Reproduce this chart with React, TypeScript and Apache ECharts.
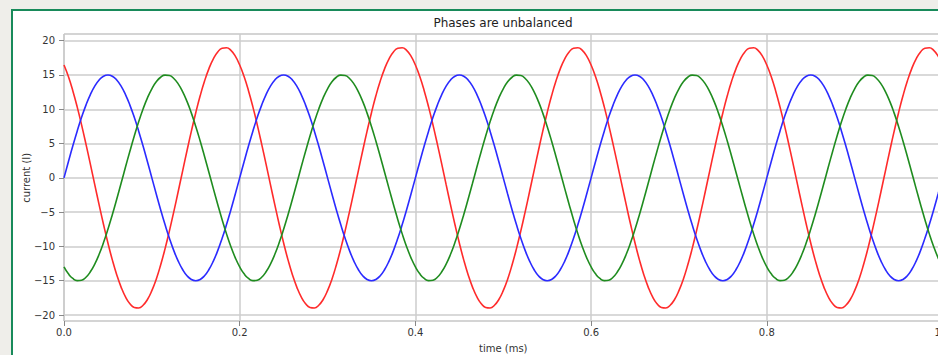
import React, { useEffect, useRef } from "react";
import * as echarts from "echarts";

const TITLE = "Phases are unbalanced";
const X_NAME = "time (ms)";
const Y_NAME = "current (I)";

const TIME = [
  0, 0.005, 0.01, 0.015, 0.02, 0.025, 0.03, 0.035, 0.04, 0.045, 0.05, 0.055, 0.06, 0.065, 0.07, 0.075, 0.08, 0.085, 0.09, 0.095,
  0.1, 0.105, 0.11, 0.115, 0.12, 0.125, 0.13, 0.135, 0.14, 0.145, 0.15, 0.155, 0.16, 0.165, 0.17, 0.175, 0.18, 0.185, 0.19, 0.195,
  0.2, 0.205, 0.21, 0.215, 0.22, 0.225, 0.23, 0.235, 0.24, 0.245, 0.25, 0.255, 0.26, 0.265, 0.27, 0.275, 0.28, 0.285, 0.29, 0.295,
  0.3, 0.305, 0.31, 0.315, 0.32, 0.325, 0.33, 0.335, 0.34, 0.345, 0.35, 0.355, 0.36, 0.365, 0.37, 0.375, 0.38, 0.385, 0.39, 0.395,
  0.4, 0.405, 0.41, 0.415, 0.42, 0.425, 0.43, 0.435, 0.44, 0.445, 0.45, 0.455, 0.46, 0.465, 0.47, 0.475, 0.48, 0.485, 0.49, 0.495,
  0.5, 0.505, 0.51, 0.515, 0.52, 0.525, 0.53, 0.535, 0.54, 0.545, 0.55, 0.555, 0.56, 0.565, 0.57, 0.575, 0.58, 0.585, 0.59, 0.595,
  0.6, 0.605, 0.61, 0.615, 0.62, 0.625, 0.63, 0.635, 0.64, 0.645, 0.65, 0.655, 0.66, 0.665, 0.67, 0.675, 0.68, 0.685, 0.69, 0.695,
  0.7, 0.705, 0.71, 0.715, 0.72, 0.725, 0.73, 0.735, 0.74, 0.745, 0.75, 0.755, 0.76, 0.765, 0.77, 0.775, 0.78, 0.785, 0.79, 0.795,
  0.8, 0.805, 0.81, 0.815, 0.82, 0.825, 0.83, 0.835, 0.84, 0.845, 0.85, 0.855, 0.86, 0.865, 0.87, 0.875, 0.88, 0.885, 0.89, 0.895,
  0.9, 0.905, 0.91, 0.915, 0.92, 0.925, 0.93, 0.935, 0.94, 0.945, 0.95, 0.955, 0.96, 0.965, 0.97, 0.975, 0.98, 0.985, 0.99, 0.995,
  1.0,
];

const PHASE_RED = [
  16.45, 14.77, 12.71, 10.35, 7.73, 4.92, 1.99, -0.99, -3.95, -6.81, -9.5, -11.96, -14.12, -15.93, -17.36, -18.35, -18.9, -18.97, -18.58, -17.74,
  -16.45, -14.77, -12.71, -10.35, -7.73, -4.92, -1.99, 0.99, 3.95, 6.81, 9.5, 11.96, 14.12, 15.93, 17.36, 18.35, 18.9, 18.97, 18.58, 17.74,
  16.45, 14.77, 12.71, 10.35, 7.73, 4.92, 1.99, -0.99, -3.95, -6.81, -9.5, -11.96, -14.12, -15.93, -17.36, -18.35, -18.9, -18.97, -18.58, -17.74,
  -16.45, -14.77, -12.71, -10.35, -7.73, -4.92, -1.99, 0.99, 3.95, 6.81, 9.5, 11.96, 14.12, 15.93, 17.36, 18.35, 18.9, 18.97, 18.58, 17.74,
  16.45, 14.77, 12.71, 10.35, 7.73, 4.92, 1.99, -0.99, -3.95, -6.81, -9.5, -11.96, -14.12, -15.93, -17.36, -18.35, -18.9, -18.97, -18.58, -17.74,
  -16.45, -14.77, -12.71, -10.35, -7.73, -4.92, -1.99, 0.99, 3.95, 6.81, 9.5, 11.96, 14.12, 15.93, 17.36, 18.35, 18.9, 18.97, 18.58, 17.74,
  16.45, 14.77, 12.71, 10.35, 7.73, 4.92, 1.99, -0.99, -3.95, -6.81, -9.5, -11.96, -14.12, -15.93, -17.36, -18.35, -18.9, -18.97, -18.58, -17.74,
  -16.45, -14.77, -12.71, -10.35, -7.73, -4.92, -1.99, 0.99, 3.95, 6.81, 9.5, 11.96, 14.12, 15.93, 17.36, 18.35, 18.9, 18.97, 18.58, 17.74,
  16.45, 14.77, 12.71, 10.35, 7.73, 4.92, 1.99, -0.99, -3.95, -6.81, -9.5, -11.96, -14.12, -15.93, -17.36, -18.35, -18.9, -18.97, -18.58, -17.74,
  -16.45, -14.77, -12.71, -10.35, -7.73, -4.92, -1.99, 0.99, 3.95, 6.81, 9.5, 11.96, 14.12, 15.93, 17.36, 18.35, 18.9, 18.97, 18.58, 17.74,
  16.45,
];

const PHASE_BLUE = [
  0, 2.35, 4.64, 6.81, 8.82, 10.61, 12.14, 13.37, 14.27, 14.82, 15, 14.82, 14.27, 13.37, 12.14, 10.61, 8.82, 6.81, 4.64, 2.35,
  0, -2.35, -4.64, -6.81, -8.82, -10.61, -12.14, -13.37, -14.27, -14.82, -15, -14.82, -14.27, -13.37, -12.14, -10.61, -8.82, -6.81, -4.64, -2.35,
  0, 2.35, 4.64, 6.81, 8.82, 10.61, 12.14, 13.37, 14.27, 14.82, 15, 14.82, 14.27, 13.37, 12.14, 10.61, 8.82, 6.81, 4.64, 2.35,
  0, -2.35, -4.64, -6.81, -8.82, -10.61, -12.14, -13.37, -14.27, -14.82, -15, -14.82, -14.27, -13.37, -12.14, -10.61, -8.82, -6.81, -4.64, -2.35,
  0, 2.35, 4.64, 6.81, 8.82, 10.61, 12.14, 13.37, 14.27, 14.82, 15, 14.82, 14.27, 13.37, 12.14, 10.61, 8.82, 6.81, 4.64, 2.35,
  0, -2.35, -4.64, -6.81, -8.82, -10.61, -12.14, -13.37, -14.27, -14.82, -15, -14.82, -14.27, -13.37, -12.14, -10.61, -8.82, -6.81, -4.64, -2.35,
  0, 2.35, 4.64, 6.81, 8.82, 10.61, 12.14, 13.37, 14.27, 14.82, 15, 14.82, 14.27, 13.37, 12.14, 10.61, 8.82, 6.81, 4.64, 2.35,
  0, -2.35, -4.64, -6.81, -8.82, -10.61, -12.14, -13.37, -14.27, -14.82, -15, -14.82, -14.27, -13.37, -12.14, -10.61, -8.82, -6.81, -4.64, -2.35,
  0, 2.35, 4.64, 6.81, 8.82, 10.61, 12.14, 13.37, 14.27, 14.82, 15, 14.82, 14.27, 13.37, 12.14, 10.61, 8.82, 6.81, 4.64, 2.35,
  0, -2.35, -4.64, -6.81, -8.82, -10.61, -12.14, -13.37, -14.27, -14.82, -15, -14.82, -14.27, -13.37, -12.14, -10.61, -8.82, -6.81, -4.64, -2.35,
  0,
];

const PHASE_GREEN = [
  -12.99, -14, -14.67, -14.98, -14.92, -14.49, -13.7, -12.58, -11.15, -9.44, -7.5, -5.38, -3.12, -0.79, 1.57, 3.88, 6.1, 8.17, 10.04, 11.66,
  12.99, 14, 14.67, 14.98, 14.92, 14.49, 13.7, 12.58, 11.15, 9.44, 7.5, 5.38, 3.12, 0.79, -1.57, -3.88, -6.1, -8.17, -10.04, -11.66,
  -12.99, -14, -14.67, -14.98, -14.92, -14.49, -13.7, -12.58, -11.15, -9.44, -7.5, -5.38, -3.12, -0.79, 1.57, 3.88, 6.1, 8.17, 10.04, 11.66,
  12.99, 14, 14.67, 14.98, 14.92, 14.49, 13.7, 12.58, 11.15, 9.44, 7.5, 5.38, 3.12, 0.79, -1.57, -3.88, -6.1, -8.17, -10.04, -11.66,
  -12.99, -14, -14.67, -14.98, -14.92, -14.49, -13.7, -12.58, -11.15, -9.44, -7.5, -5.38, -3.12, -0.79, 1.57, 3.88, 6.1, 8.17, 10.04, 11.66,
  12.99, 14, 14.67, 14.98, 14.92, 14.49, 13.7, 12.58, 11.15, 9.44, 7.5, 5.38, 3.12, 0.79, -1.57, -3.88, -6.1, -8.17, -10.04, -11.66,
  -12.99, -14, -14.67, -14.98, -14.92, -14.49, -13.7, -12.58, -11.15, -9.44, -7.5, -5.38, -3.12, -0.79, 1.57, 3.88, 6.1, 8.17, 10.04, 11.66,
  12.99, 14, 14.67, 14.98, 14.92, 14.49, 13.7, 12.58, 11.15, 9.44, 7.5, 5.38, 3.12, 0.79, -1.57, -3.88, -6.1, -8.17, -10.04, -11.66,
  -12.99, -14, -14.67, -14.98, -14.92, -14.49, -13.7, -12.58, -11.15, -9.44, -7.5, -5.38, -3.12, -0.79, 1.57, 3.88, 6.1, 8.17, 10.04, 11.66,
  12.99, 14, 14.67, 14.98, 14.92, 14.49, 13.7, 12.58, 11.15, 9.44, 7.5, 5.38, 3.12, 0.79, -1.57, -3.88, -6.1, -8.17, -10.04, -11.66,
  -12.99,
];

const SERIES = [
  { name: "Phase A", values: PHASE_RED, color: "#ff2b2b" },
  { name: "Phase B", values: PHASE_BLUE, color: "#2b2bff" },
  { name: "Phase C", values: PHASE_GREEN, color: "#1f8c1f" },
];

const FONT = "DejaVu Sans";

export default function App() {
  const ref = useRef<HTMLDivElement>(null);

  useEffect(() => {
    if (!ref.current) return;
    const chart = echarts.init(ref.current, undefined, { renderer: "svg" });
    const gridLine = { show: true, lineStyle: { color: "#cdcdcd", width: 1.5 } };
    const tick = { show: true, length: 5, lineStyle: { color: "#888", width: 1 } };
    const label = { color: "#333", fontSize: 10, fontFamily: FONT };
    chart.setOption({
      animation: false,
      backgroundColor: "transparent",
      title: {
        text: TITLE,
        left: "center",
        top: 17,
        padding: 0,
        textStyle: { fontSize: 12, fontWeight: "normal", color: "#222", fontFamily: FONT },
      },
      grid: [
        { left: 64, top: 34, width: 878.5, height: 287, show: true, borderColor: "#a9a9a9", borderWidth: 1, backgroundColor: "transparent", containLabel: false, outerBoundsMode: "none" },
        { left: 64, top: 40.7, width: 878.5, height: 274.3, containLabel: false, outerBoundsMode: "none" },
      ],
      xAxis: [
        {
          type: "value",
          gridIndex: 0,
          min: 0,
          max: 1,
          interval: 0.2,
          axisLine: { show: false, onZero: false },
          axisTick: tick,
          axisLabel: { ...label, margin: 6, formatter: (v: number) => v.toFixed(1) },
          splitLine: gridLine,
          name: X_NAME,
          nameLocation: "middle",
          nameGap: 22,
          nameMoveOverlap: false,
          nameTextStyle: { color: "#333", fontSize: 10, fontFamily: FONT },
        },
        { type: "value", gridIndex: 1, min: 0, max: 1, show: false },
      ],
      yAxis: [
        { type: "value", gridIndex: 0, min: -20.9, max: 20.9, show: false },
        {
          type: "value",
          gridIndex: 1,
          min: -20,
          max: 20,
          interval: 5,
          axisLine: { show: false, onZero: false },
          axisTick: tick,
          axisLabel: { ...label, margin: 9, formatter: (v: number) => String(v).replace("-", "\u2212") },
          splitLine: gridLine,
          name: Y_NAME,
          nameLocation: "middle",
          nameGap: 33,
          nameRotate: 90,
          nameMoveOverlap: false,
          nameTextStyle: { color: "#333", fontSize: 10, fontFamily: FONT },
        },
      ],
      series: SERIES.map((s) => ({
        type: "line",
        name: s.name,
        xAxisIndex: 1,
        yAxisIndex: 1,
        data: TIME.map((t, i) => [t, s.values[i]]),
        smooth: true,
        showSymbol: false,
        clip: false,
        lineStyle: { color: s.color, width: 1.6 },
        itemStyle: { color: s.color },
      })),
    });
    return () => chart.dispose();
  }, []);

  return (
    <div style={{ position: "fixed", left: 0, top: 0, right: 0, bottom: 0, background: "#efeeea", overflow: "hidden" }}>
      <div
        style={{
          position: "absolute",
          left: 11,
          top: 9,
          width: 2000,
          height: 1000,
          background: "#ffffff",
          borderLeft: "2px solid #188a5a",
          borderTop: "2px solid #188a5a",
        }}
      />
      <div ref={ref} style={{ position: "absolute", left: 0, top: 0, width: 1006, height: 355 }} />
    </div>
  );
}
